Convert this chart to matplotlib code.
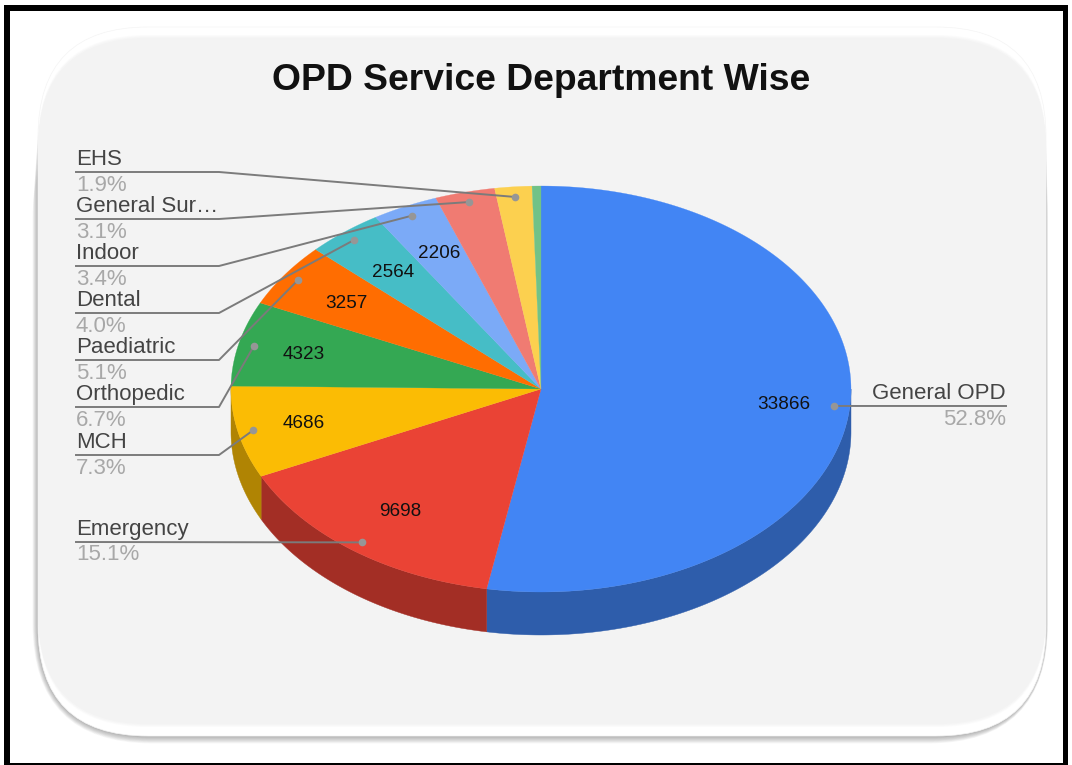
import numpy as np
import matplotlib
matplotlib.use("Agg")
import matplotlib.pyplot as plt
from matplotlib.patches import FancyBboxPatch, Rectangle

plt.rcParams['font.family'] = ['Liberation Sans', 'DejaVu Sans']

title = "OPD Service Department Wise"
departments = ["General OPD", "Emergency", "MCH", "Orthopedic", "Paediatric", "Dental",
               "Indoor", "General Sur…", "EHS", "Other"]
visits = [33866, 9698, 4686, 4323, 3257, 2564, 2206, 2000, 1240, 295]
percent_labels = ["52.8%", "15.1%", "7.3%", "6.7%", "5.1%", "4.0%", "3.4%", "3.1%", "1.9%", ""]
value_labels = ["33866", "9698", "4686", "4323", "3257", "2564", "2206", "", "", ""]
top_colors = ["#4285F4", "#EA4335", "#FBBC04", "#34A853", "#FF6D01", "#46BDC6",
              "#7BAAF7", "#F07B72", "#FCD04F", "#71C287"]
side_colors = ["#2E5DAB", "#A32E25", "#B08403", "#24763A", "#B34C01", "#31848B",
               "#5677AD", "#A85650", "#B09237", "#4F885F"]

# layout (pixel space)
CX, CY, RX, RY, DEPTH = 541, 389, 310, 203, 43
label_y = [406, 542, 455, 407, 360, 313, 266, 219, 172]
value_frac = [0.787, 0.75, 0.785, 0.785, 0.76, 0.75, 0.75, 0, 0, 0]

fig = plt.figure(figsize=(10.72, 7.65), dpi=100, facecolor="white")
ax = fig.add_axes([0, 0, 1, 1])
ax.set_xlim(0, 1072)
ax.set_ylim(765, 0)
ax.axis("off")

# outer frame: four bars of differing thickness
for x, y, w, h in [(4, 5, 1064, 6), (4, 5, 6, 760), (1063, 5, 5, 760), (4, 763, 1064, 2)]:
    ax.add_patch(Rectangle((x, y), w, h, fc="black", ec="none", zorder=20))


def rbox(x0, y0, x1, y1, r, **kw):
    p = FancyBboxPatch((x0 + r, y0 + r), x1 - x0 - 2 * r, y1 - y0 - 2 * r,
                       boxstyle=f"round,pad={r},rounding_size={r}", **kw)
    ax.add_patch(p)
    return p


# soft shadow under the panel, falling down and to the left; outer layers start lower
for i in range(10, 0, -1):
    rbox(38 - i * 0.55, 30 + i * 7, 1046 + i * 0.2, 736 + i * 0.75, 110 + i,
         fc="#000000", ec="none", alpha=0.032, zorder=1)
rbox(38, 27, 1046, 736, 110, fc="#ffffff", ec="#f4f4f4", lw=0.5, zorder=2)
for i in range(6):
    rbox(38 + i * 0.1, 35 + i * 1.2, 1046 - i * 0.1, 727 - i * 1.2, 110,
         fc="#f3f3f3", ec="none", alpha=0.3 + i * 0.14, zorder=3)

ax.text(541, 80, title, fontsize=26.8, fontweight="bold", color="#111111",
        ha="center", va="center", zorder=10)

# pie geometry derived from the values
vals = np.asarray(visits, dtype=float)
edges = np.concatenate([[0], np.cumsum(vals)]) / vals.sum() * 2 * np.pi


def pt(t, f=1.0):
    return CX + RX * f * np.sin(t), CY - RY * f * np.cos(t)


# side walls
for a, b, c in zip(edges[:-1], edges[1:], side_colors):
    lo, hi = max(a, np.pi / 2), min(b, 3 * np.pi / 2)
    if hi <= lo:
        continue
    t = np.linspace(lo, hi, 200)
    x, y = pt(t)
    ax.fill(np.r_[x, x[::-1]], np.r_[y, y[::-1] + DEPTH], fc=c, ec=c, lw=0.3, zorder=4)

# top faces
for a, b, c in zip(edges[:-1], edges[1:], top_colors):
    t = np.linspace(a, b, 300)
    x, y = pt(t)
    ax.fill(np.r_[CX, x], np.r_[CY, y], fc=c, ec=c, lw=0.2, zorder=5)

# value labels inside slices
for a, b, s, f in zip(edges[:-1], edges[1:], value_labels, value_frac):
    if s:
        x, y = pt((a + b) / 2, f)
        ax.text(x, y + 1, s, fontsize=13.6, color="#111111", ha="center", va="center", zorder=8)

# leader lines and outside labels
LEADER = "#7b7b7b"
for i, (name, pct, ly) in enumerate(zip(departments, percent_labels, label_y)):
    mx, my = pt((edges[i] + edges[i + 1]) / 2, 0.95)
    if i == 0:
        xs, ys = [1006, mx], [ly, my]
        xt, ha = 1006, "right"
    elif i == 1:
        xs, ys = [76, mx], [ly, my]
        xt, ha = 76, "left"
    else:
        xs, ys = [76, 219, mx], [ly, ly, my]
        xt, ha = 76, "left"
    ax.plot(xs, ys, color=LEADER, lw=1.4, zorder=7, solid_joinstyle="round")
    ax.plot([mx], [my], "o", ms=5.5, color="#969696", mec="none", zorder=9)
    ax.text(xt, ly - 2, name, fontsize=16, color="#444444", ha=ha, va="bottom", zorder=8)
    ax.text(xt, ly + 2.5, pct, fontsize=16, color="#a8a8a8", ha=ha, va="top", zorder=8)

fig.savefig("out.png", dpi=100, facecolor="white")
